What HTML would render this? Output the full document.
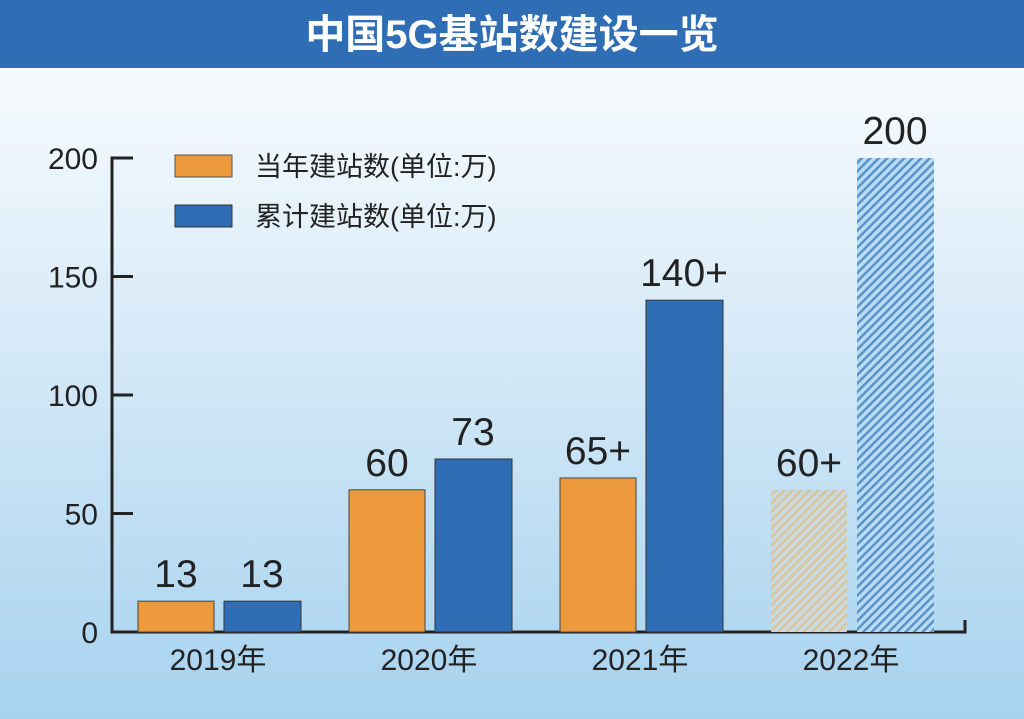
<!DOCTYPE html>
<html><head><meta charset="utf-8"><style>
body{margin:0;width:1024px;height:719px;overflow:hidden;font-family:"Liberation Sans","Noto Sans CJK SC",sans-serif}
#c{position:absolute;left:0;top:0}
</style></head><body>
<svg id="c" width="1024" height="719">
<defs>
<linearGradient id="bg" x1="0" y1="0" x2="0" y2="1"><stop offset="0" stop-color="#ffffff"/><stop offset="0.25" stop-color="#eaf4fb"/><stop offset="1" stop-color="#a7d2ef"/></linearGradient>
<pattern id="hb" width="6" height="6" patternUnits="userSpaceOnUse" patternTransform="rotate(45)"><rect width="6" height="6" fill="#b8dcf4"/><rect width="2.5" height="6" fill="#5b93c9"/></pattern>
<pattern id="ho" width="6" height="6" patternUnits="userSpaceOnUse" patternTransform="rotate(45)"><rect width="6" height="6" fill="#c8d9e0"/><rect width="2.5" height="6" fill="#d9c49c"/></pattern>
</defs>
<rect width="1024" height="719" fill="url(#bg)"/>
<rect width="1024" height="68" fill="#2f6db5"/>
<text x="512" y="48" text-anchor="middle" fill="#fff" font-size="40" font-weight="bold">中国5G基站数建设一览</text>
<g id="axes"></g><g id="bars"></g>
<rect x="175" y="155" width="57" height="22" fill="#ec9a3b" stroke="#555" stroke-width="1"/>
<text x="255" y="176" font-size="27" fill="#222">当年建站数(单位:万)</text>
<rect x="175" y="205" width="57" height="22" fill="#2f6db5" stroke="#333" stroke-width="1"/>
<text x="255" y="226" font-size="27" fill="#222">累计建站数(单位:万)</text>
</svg>
<script>
const years=["2019年","2020年","2021年","2022年"];
const annual=[13,60,65,60];
const cumulative=[13,73,140,200];
const annualLabels=["13","60","65+","60+"];
const cumLabels=["13","73","140+","200"];
const yTicks=[0,50,100,150,200];
const NS="http://www.w3.org/2000/svg";
const y0=632,yTop=158,yMax=200;
const y=v=>y0-(v/yMax)*(y0-yTop);
const gx=i=>138+i*211;
function mk(t,a,p){const e=document.createElementNS(NS,t);for(const k in a)e.setAttribute(k,a[k]);p.appendChild(e);return e;}
const ax=document.getElementById('axes'),bg=document.getElementById('bars');
let l=mk('path',{d:`M133 ${yTop} H112 V${y0} H965 V${y0-12}`,fill:'none',stroke:'#222','stroke-width':3},ax);


yTicks.forEach(v=>{
 let t=mk('line',{x1:112,x2:133,y1:y(v),y2:y(v),stroke:'#222','stroke-width':3},ax);
 
 
 let tx=mk('text',{x:98,y:y(v)+11,'text-anchor':'end','font-size':30,fill:'#222'},ax);
 tx.textContent=v;
 
 
});
years.forEach((yr,i)=>{
 const x=gx(i),last=i===years.length-1;
 let a=mk('rect',{x:x,y:y(annual[i]),width:76,height:y0-y(annual[i]),fill:last?'url(#ho)':'#ec9a3b',stroke:last?'none':'#444','stroke-width':1},bg);
 
 
 let b=mk('rect',{x:x+86,y:y(cumulative[i]),width:77,height:y0-y(cumulative[i]),fill:last?'url(#hb)':'#2f6db5',stroke:last?'none':'#333','stroke-width':1},bg);
 
 
 let la=mk('text',{x:x+38,y:y(annual[i])-14,'text-anchor':'middle','font-size':39,fill:'#222'},bg);
 la.textContent=annualLabels[i];
 
 
 let lb=mk('text',{x:x+124,y:y(cumulative[i])-14,'text-anchor':'middle','font-size':39,fill:'#222'},bg);
 lb.textContent=cumLabels[i];
 
 
 let xl=mk('text',{x:x+80,y:670,'text-anchor':'middle','font-size':30,fill:'#222'},bg);
 xl.textContent=yr;
 
 
});
</script>
</body></html>
